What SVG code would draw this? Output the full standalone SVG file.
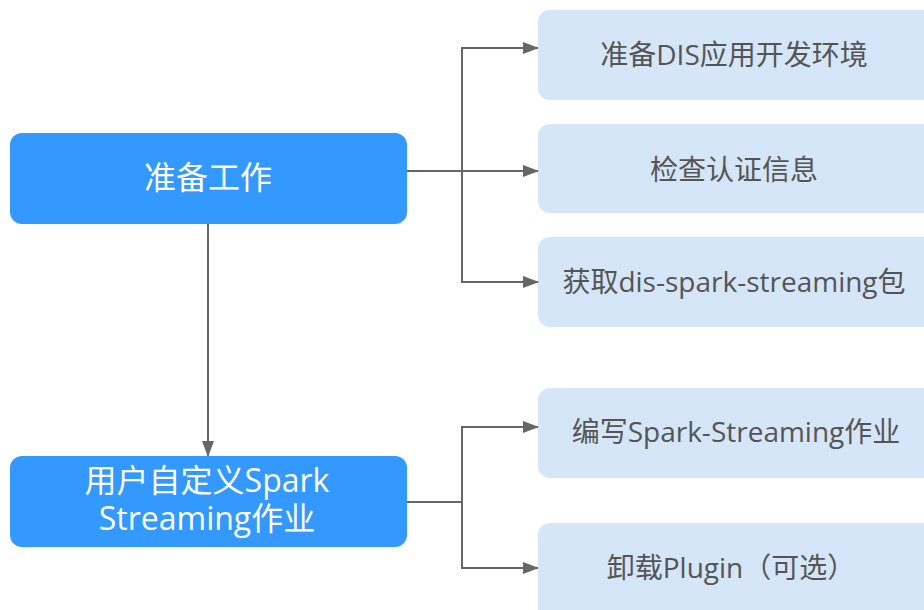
<svg xmlns="http://www.w3.org/2000/svg" width="924" height="610" viewBox="0 0 924 610">
<defs>
<marker id="arr" markerWidth="16" markerHeight="12" refX="15" refY="6" orient="auto" markerUnits="userSpaceOnUse">
<path d="M0,0 L16,6 L0,12 z" fill="#666"/>
</marker>
<style>
.main{fill:#3399ff;}
.sub{fill:#d4e6f8;}
.mt{fill:#fff;font-family:"Open Sans","Noto Sans CJK SC",sans-serif;font-size:32px;text-anchor:middle;}
.st{fill:#555;font-family:"Open Sans","Noto Sans CJK SC",sans-serif;font-size:28px;text-anchor:middle;}
.ln{fill:none;stroke:#666;stroke-width:2;}
</style>
</defs>
<g id="n1"><rect class="main" x="10" y="133" width="397" height="91" rx="12"/><text class="mt" x="208" y="189">准备工作</text></g>
<g id="n2"><rect class="main" x="10" y="456" width="397" height="91" rx="12"/><text class="mt" x="207" y="492">用户自定义Spark</text><text class="mt" x="207" y="530">Streaming作业</text></g>
<g id="s1"><rect class="sub" x="538" y="10" width="400" height="90" rx="12"/><text class="st" x="734" y="65">准备DIS应用开发环境</text></g>
<g id="s2"><rect class="sub" x="538" y="124" width="400" height="89" rx="12"/><text class="st" x="734" y="180">检查认证信息</text></g>
<g id="s3"><rect class="sub" x="538" y="237" width="400" height="90" rx="12"/><text class="st" x="734" y="292">获取dis-spark-streaming包</text></g>
<g id="s4"><rect class="sub" x="538" y="388" width="400" height="90" rx="12"/><text class="st" x="736" y="442">编写Spark-Streaming作业</text></g>
<g id="s5"><rect class="sub" x="538" y="523" width="400" height="100" rx="12"/><text class="st" x="731" y="578">卸载Plugin（可选）</text></g>
<g id="connectors">
<path class="ln" d="M407,171 H538" marker-end="url(#arr)"/>
<path class="ln" d="M462,171 V48 H538" marker-end="url(#arr)"/>
<path class="ln" d="M462,171 V282 H538" marker-end="url(#arr)"/>
<path class="ln" d="M208,224 V456" marker-end="url(#arr)"/>
<path class="ln" d="M407,502 H462 V427 H538" marker-end="url(#arr)"/>
<path class="ln" d="M462,502 V568 H538" marker-end="url(#arr)"/>
</g>
</svg>
